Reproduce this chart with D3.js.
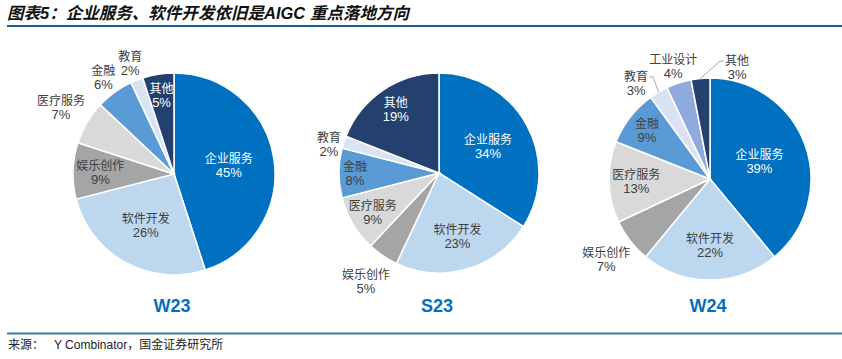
<!DOCTYPE html>
<html>
<head>
<meta charset="utf-8">
<script src="https://cdn.jsdelivr.net/npm/d3@7"></script>
<style>
  body { margin: 0; background: #fff; }
  svg { display: block; font-family: "Liberation Sans", Arial, "Noto Sans CJK SC", sans-serif; }
</style>
</head>
<body>
<svg id="chart" width="842" height="359"></svg>
<script>
// data
var w23Cats = ["企业服务", "软件开发", "娱乐创作", "医疗服务", "金融", "教育", "其他"];
var w23Values = [45, 26, 9, 7, 6, 2, 5];

var s23Cats = ["企业服务", "软件开发", "娱乐创作", "医疗服务", "金融", "教育", "其他"];
var s23Values = [34, 23, 5, 9, 8, 2, 19];

var w24Cats = ["企业服务", "软件开发", "娱乐创作", "医疗服务", "金融", "教育", "工业设计", "其他"];
var w24Values = [39, 22, 7, 13, 9, 3, 4, 3];

var panelNames = ["W23", "S23", "W24"];

var colors = {
    "企业服务": "#0070C0",
    "软件开发": "#BDD7EE",
    "娱乐创作": "#A5A5A5",
    "医疗服务": "#D9D9D9",
    "金融": "#5B9BD5",
    "教育": "#DAE3F3",
    "工业设计": "#8FAADC",
    "其他": "#24406E"
};
var whiteText = ["企业服务", "其他"];

// layout for each pie: centre, radius, label radius factor, angle shift, leader
var panels = [
    { cats: w23Cats, values: w23Values, cx: 174, cy: 174, r: 101,
      lr: [0.55, 0.58, 0.73, 1.3, 1.19, 1.18, 0.79], shift: [0, 0, 0, 0, 0, 0, 0], leader: [] },
    { cats: s23Cats, values: s23Values, cx: 439, cy: 173, r: 100,
      lr: [0.56, 0.66, 1.3, 0.77, 0.84, 1.14, 0.77], shift: [0, 0, 0, 0, 0, -3, 0], leader: [] },
    { cats: w24Cats, values: w24Values, cx: 710, cy: 179, r: 101,
      lr: [0.52, 0.65, 1.3, 0.73, 0.79, 1.2, 1.18, 1.14], shift: [0, 0, 0, 0, 0, -7, 0, 19], leader: [5, 7] }
];

var svg = d3.select("#chart");

// title
svg.append("text")
    .attr("x", 7)
    .attr("y", 19)
    .attr("font-size", 16.5)
    .attr("font-weight", "bold")
    .attr("font-style", "italic")
    .attr("fill", "#111")
    .attr("textLength", 402)
    .text("图表5：企业服务、软件开发依旧是AIGC 重点落地方向");

svg.append("line")
    .attr("x1", 7).attr("x2", 842)
    .attr("y1", 26).attr("y2", 26)
    .attr("stroke", "#1F5F8F")
    .attr("stroke-width", 2);

svg.append("line")
    .attr("x1", 7).attr("x2", 842)
    .attr("y1", 333.5).attr("y2", 333.5)
    .attr("stroke", "#41789C")
    .attr("stroke-width", 2);

svg.append("text")
    .attr("x", 8)
    .attr("y", 349)
    .attr("font-size", 12)
    .attr("fill", "#222")
    .attr("xml:space", "preserve")
    .text("来源：   Y Combinator，国金证券研究所");

var pie = d3.pie().sort(null).value(function(d) { return d.v; });

panels.forEach(function(p, pi) {
    var data = p.cats.map(function(c, i) { return { c: c, v: p.values[i] }; });
    var arcs = pie(data);
    var arc = d3.arc().innerRadius(0).outerRadius(p.r);
    var g = svg.append("g").attr("transform", "translate(" + p.cx + "," + p.cy + ")");

    g.selectAll("path")
        .data(arcs)
        .enter().append("path")
        .attr("d", arc)
        .attr("fill", function(d) { return colors[d.data.c]; })
        .attr("stroke", "#fff")
        .attr("stroke-width", 1.5);

    arcs.forEach(function(d, i) {
        var mid = (d.startAngle + d.endAngle) / 2;
        var a = mid + p.shift[i] * Math.PI / 180;
        var rr = p.r * p.lr[i];
        var x = Math.sin(a) * rr, y = -Math.cos(a) * rr;
        var inside = p.lr[i] < 1;
        var fill = inside && whiteText.indexOf(d.data.c) >= 0 ? "#fff" : "#404040";

        var t = g.append("text")
            .attr("text-anchor", "middle")
            .attr("fill", fill);
        t.append("tspan")
            .attr("x", x).attr("y", y - 2)
            .attr("font-size", 12)
            .text(d.data.c);
        t.append("tspan")
            .attr("x", x).attr("y", y + 12)
            .attr("font-size", 13)
            .text(d.data.v + "%");

        if (p.leader.indexOf(i) >= 0) {
            var px = Math.sin(mid) * p.r, py = -Math.cos(mid) * p.r;
            var side = px > x ? 1 : -1;
            var half = d.data.c.length * 6;
            g.append("polyline")
                .attr("points", [
                    [px, py],
                    [x + side * (half + 5), y - 6],
                    [x + side * (half + 1), y - 6]
                ].join(" "))
                .attr("fill", "none")
                .attr("stroke", "#A6A6A6")
                .attr("stroke-width", 1);
        }
    });

    svg.append("text")
        .attr("x", p.cx - 2)
        .attr("y", 312)
        .attr("text-anchor", "middle")
        .attr("font-size", 18)
        .attr("font-weight", "bold")
        .attr("fill", "#0070C0")
        .text(panelNames[pi]);
});
</script>
</body>
</html>
